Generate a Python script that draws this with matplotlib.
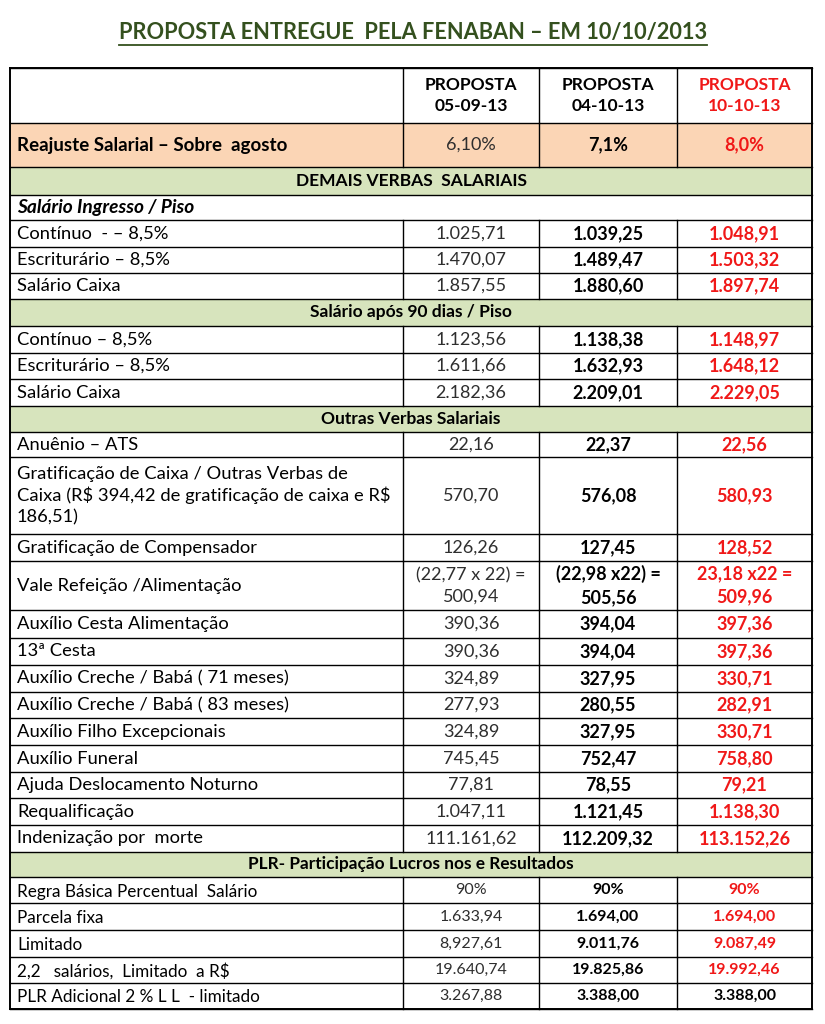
import matplotlib.pyplot as plt

plt.rcParams['font.family'] = ['Lato', 'DejaVu Sans']

# table content
title = 'PROPOSTA ENTREGUE  PELA FENABAN – EM 10/10/2013'
col_heads = ['PROPOSTA\n05-09-13', 'PROPOSTA\n04-10-13', 'PROPOSTA\n10-10-13']

labels = [
    'Reajuste Salarial – Sobre  agosto',
    'DEMAIS VERBAS  SALARIAIS',
    'Salário Ingresso / Piso',
    'Contínuo  - – 8,5%',
    'Escriturário – 8,5%',
    'Salário Caixa',
    'Salário após 90 dias / Piso',
    'Contínuo – 8,5%',
    'Escriturário – 8,5%',
    'Salário Caixa',
    'Outras Verbas Salariais',
    'Anuênio – ATS',
    'Gratificação de Caixa / Outras Verbas de\nCaixa (R$ 394,42 de gratificação de caixa e R$\n186,51)',
    'Gratificação de Compensador',
    'Vale Refeição /Alimentação',
    'Auxílio Cesta Alimentação',
    '13ª Cesta',
    'Auxílio Creche / Babá ( 71 meses)',
    'Auxílio Creche / Babá ( 83 meses)',
    'Auxílio Filho Excepcionais',
    'Auxílio Funeral',
    'Ajuda Deslocamento Noturno',
    'Requalificação',
    'Indenização por  morte',
    'PLR- Participação Lucros nos e Resultados',
    'Regra Básica Percentual  Salário',
    'Parcela fixa',
    'Limitado',
    '2,2   salários,  Limitado  a R$',
    'PLR Adicional 2 % L L  - limitado',
]
kinds = ['reaj', 'sec', 'sub', 'row', 'row', 'row', 'sec', 'row', 'row', 'row',
         'sec', 'row', 'row', 'row', 'row', 'row', 'row', 'row', 'row', 'row',
         'row', 'row', 'row', 'row', 'sec', 'plr', 'plr', 'plr', 'plr', 'plr']
prop_0509 = ['6,10%', '', '', '1.025,71', '1.470,07', '1.857,55', '', '1.123,56', '1.611,66', '2.182,36',
             '', '22,16', '570,70', '126,26', '(22,77 x 22) =\n500,94', '390,36', '390,36', '324,89',
             '277,93', '324,89', '745,45', '77,81', '1.047,11', '111.161,62', '',
             '90%', '1.633,94', '8,927,61', '19.640,74', '3.267,88']
prop_0410 = ['7,1%', '', '', '1.039,25', '1.489,47', '1.880,60', '', '1.138,38', '1.632,93', '2.209,01',
             '', '22,37', '576,08', '127,45', '(22,98 x22) =\n505,56', '394,04', '394,04', '327,95',
             '280,55', '327,95', '752,47', '78,55', '1.121,45', '112.209,32', '',
             '90%', '1.694,00', '9.011,76', '19.825,86', '3.388,00']
prop_1010 = ['8,0%', '', '', '1.048,91', '1.503,32', '1.897,74', '', '1.148,97', '1.648,12', '2.229,05',
             '', '22,56', '580,93', '128,52', '23,18 x22 =\n509,96', '397,36', '397,36', '330,71',
             '282,91', '330,71', '758,80', '79,21', '1.138,30', '113.152,26', '',
             '90%', '1.694,00', '9.087,49', '19.992,46', '3.388,00']

# layout (pixels)
row_edges = [68, 123, 167, 195, 220, 247, 273, 299, 326, 353, 379, 406, 432, 457, 534, 561,
             610, 638, 665, 692, 718, 745, 772, 798, 825, 852, 877, 903, 930, 957, 983, 1009]
col_edges = [10, 403, 539, 677, 812]

RED = '#f01818'
GREEN_BG = '#d7e4bd'
PEACH_BG = '#fbd5b5'
TITLE_C = '#34501e'

fig = plt.figure(figsize=(8.25, 10.24), dpi=100)
ax = fig.add_axes([0, 0, 1, 1])
ax.set_xlim(0, 825)
ax.set_ylim(1024, 0)
ax.axis('off')

t = ax.text(413, 32, title, ha='center', va='center', fontsize=15.7, fontweight='bold', color=TITLE_C)
fig.canvas.draw()
bb = t.get_window_extent().transformed(ax.transData.inverted())
ax.plot([bb.x0, bb.x1], [45, 45], color=TITLE_C, lw=1.3)

L, R = col_edges[0], col_edges[-1]
cx = [(col_edges[i] + col_edges[i + 1]) / 2 for i in range(1, 4)]

# header row
for i, h in enumerate(col_heads):
    ax.text(cx[i], (row_edges[0] + row_edges[1]) / 2, h, ha='center', va='center',
            fontsize=12.5, fontweight='bold', color=RED if i == 2 else 'black', linespacing=1.45)

for k, lab in enumerate(labels):
    y0, y1 = row_edges[k + 1], row_edges[k + 2]
    ym = (y0 + y1) / 2
    kind = kinds[k]
    if kind == 'reaj':
        ax.fill_between([L, R], y0, y1, color=PEACH_BG, lw=0)
    if kind == 'sec':
        ax.fill_between([L, R], y0, y1, color=GREEN_BG, lw=0)
        fs = 12.4 if k == len(labels) - 6 else 12.5
        ax.text((L + R) / 2, ym, lab, ha='center', va='center', fontsize=fs, fontweight='bold')
        continue
    if kind == 'sub':
        ax.text(L + 7, ym, lab, ha='left', va='center', fontsize=13.8, fontweight='bold', style='italic')
        continue
    if kind == 'plr':
        fs_lab, fs_val = 12.3, 11.5
    elif kind == 'reaj':
        fs_lab, fs_val = 13.5, 13
    else:
        fs_lab, fs_val = 13.2, 13
    ax.text(L + 7, ym + (1.5 if kind == 'plr' else 0), lab, ha='left', va='center', fontsize=fs_lab,
            linespacing=1.37, fontweight='bold' if kind == 'reaj' else 'normal', parse_math=False)
    vals = [prop_0509[k], prop_0410[k], prop_1010[k]]
    for i, v in enumerate(vals):
        if i == 0:
            c, w = '#2e2e2e', 'normal'
        elif i == 1:
            c, w = 'black', 'bold'
        else:
            c, w = (RED if k != len(labels) - 1 else 'black'), 'bold'
        ax.text(cx[i], ym, v, ha='center', va='center', fontsize=fs_val, color=c, fontweight=w,
                linespacing=1.4)

# grid lines
for y in row_edges:
    ax.plot([L, R], [y, y], color='black', lw=1.0)
for k in range(len(row_edges) - 1):
    if k > 0 and kinds[k - 1] in ('sec', 'sub'):
        continue
    y0, y1 = row_edges[k], row_edges[k + 1]
    for x in col_edges[1:-1]:
        ax.plot([x, x], [y0, y1], color='black', lw=1.0)
ax.plot([L, L], [row_edges[0], row_edges[-1]], color='black', lw=1.4)
ax.plot([R, R], [row_edges[0], row_edges[-1]], color='black', lw=1.4)
ax.plot([L, R], [row_edges[0], row_edges[0]], color='black', lw=1.4)
ax.plot([L, R], [row_edges[-1], row_edges[-1]], color='black', lw=1.4)

fig.savefig('out.png', dpi=100)
